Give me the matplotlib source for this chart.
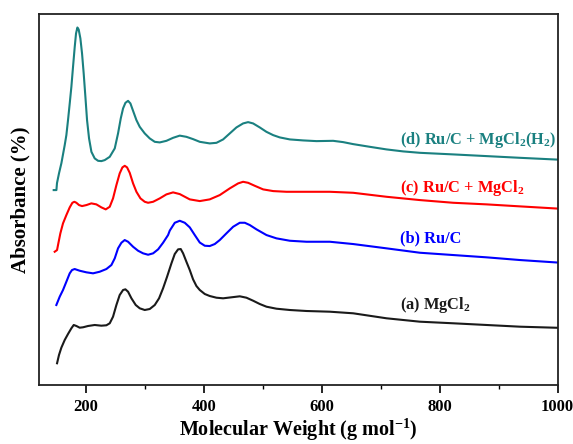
import matplotlib
matplotlib.use("Agg")
import matplotlib.pyplot as plt
from matplotlib.ticker import MultipleLocator

# ------------------------------------------------------------
# Data (x in g/mol, absorbance in arbitrary units)
# ------------------------------------------------------------
x_a = [150.7, 154.0, 158.0, 163.7, 169.3, 175.0, 179.0, 183.5, 189.1, 194.8,
       203.3, 214.6, 225.9, 234.4, 240.1, 245.7, 251.4, 257.0, 262.7, 266.7,
       271.2, 276.9, 284.2, 291.0, 299.5, 308.0, 316.5, 323.8, 330.6, 337.4,
       344.8, 350.4, 356.1, 360.6, 364.6, 370.2, 375.9, 381.5, 387.2, 392.9,
       401.4, 409.8, 421.2, 432.5, 446.6, 460.8, 472.1, 483.4, 494.7, 506.1,
       523.0, 545.7, 574.0, 613.6, 653.2, 709.8, 766.4, 823.0, 879.6, 936.2,
       1000.0]
y_a = [21.7, 30.0, 37.3, 45.0, 51.0, 56.7, 60.0, 59.0, 57.3, 57.7,
       59.0, 60.0, 59.3, 59.7, 61.7, 68.3, 80.0, 90.0, 95.0, 95.7,
       93.3, 86.7, 80.0, 76.7, 75.0, 76.0, 80.0, 86.7, 96.7, 108.3,
       121.7, 131.0, 135.7, 136.0, 131.7, 123.3, 115.0, 105.7, 99.0, 95.0,
       91.0, 89.0, 87.3, 86.7, 87.7, 88.7, 87.3, 84.3, 81.0, 78.3,
       76.3, 75.0, 74.0, 73.3, 71.7, 66.7, 63.3, 61.7, 60.0, 58.3,
       57.2]

x_b = [149.5, 155.2, 160.8, 166.5, 172.2, 176.1, 180.6, 189.1, 200.5, 211.8,
       223.1, 234.4, 242.9, 248.6, 254.2, 259.9, 265.5, 271.2, 279.7, 288.2,
       296.7, 305.2, 313.7, 322.2, 330.6, 339.1, 342.0, 350.5, 358.9, 367.4,
       375.9, 384.4, 392.9, 401.4, 409.8, 418.3, 426.8, 438.1, 449.5, 460.8,
       469.3, 477.8, 489.1, 506.1, 523.0, 545.7, 574.0, 613.6, 653.2, 709.8,
       766.4, 823.0, 879.6, 936.2, 1000.0]
y_b = [80.0, 88.3, 95.0, 103.3, 111.7, 115.0, 116.0, 114.3, 112.7, 111.7,
       113.3, 116.0, 120.0, 126.7, 136.7, 142.3, 145.0, 143.3, 138.3, 134.3,
       131.7, 130.3, 131.7, 135.7, 142.3, 150.0, 154.5, 162.3, 164.3, 162.3,
       157.7, 150.0, 142.5, 139.3, 139.0, 141.0, 145.0, 151.7, 158.3, 162.3,
       162.3, 160.0, 155.7, 150.0, 146.7, 144.3, 143.3, 143.3, 141.0, 136.7,
       132.3, 130.0, 127.7, 125.0, 122.5]

x_c = [146.7, 150.7, 152.9, 156.3, 160.8, 166.5, 172.2, 176.7, 180.1, 183.5,
       188.0, 193.1, 200.5, 208.9, 217.4, 225.9, 233.3, 240.1, 245.7, 251.4,
       257.0, 261.6, 265.6, 269.5, 274.0, 279.7, 285.4, 292.2, 299.5, 305.2,
       313.7, 325.0, 336.3, 347.6, 358.9, 375.9, 392.9, 409.8, 426.8, 443.8,
       458.0, 466.4, 474.9, 486.2, 500.4, 517.4, 540.0, 585.3, 613.6, 653.2,
       709.8, 766.4, 823.0, 879.6, 936.2, 1000.0]
y_c = [133.3, 135.0, 141.7, 151.7, 161.7, 170.0, 177.7, 182.3, 183.3, 182.3,
       180.0, 179.0, 180.0, 181.7, 180.7, 177.7, 175.7, 178.3, 186.7, 200.0,
       211.7, 217.7, 219.3, 217.7, 212.3, 201.7, 193.3, 186.7, 183.3, 182.3,
       183.3, 186.7, 190.7, 192.7, 191.0, 185.7, 184.0, 185.7, 190.0, 196.7,
       201.7, 203.3, 202.3, 199.3, 195.7, 194.0, 193.3, 193.3, 193.3, 192.3,
       188.3, 185.0, 182.3, 180.7, 178.7, 176.5]

x_d = [145.0, 149.6, 150.6, 154.1, 158.1, 163.7, 166.5, 169.3, 172.2, 175.0,
       177.8, 180.7, 182.9, 185.2, 187.4, 190.3, 193.1, 195.9, 198.8, 201.6,
       205.0, 209.0, 214.6, 220.3, 225.9, 231.6, 240.1, 248.6, 254.2, 258.8,
       262.7, 266.7, 271.2, 275.2, 279.7, 285.4, 291.0, 299.5, 308.0, 316.5,
       325.0, 336.3, 347.6, 358.9, 370.2, 381.5, 392.9, 409.8, 421.2, 432.5,
       443.8, 455.1, 466.4, 474.9, 483.4, 494.7, 506.0, 517.4, 528.7, 545.7,
       568.3, 591.0, 619.2, 636.2, 653.2, 681.5, 709.8, 738.1, 766.4, 823.0,
       879.6, 936.2, 1000.0]
y_d = [195.0, 195.0, 202.0, 212.0, 222.0, 240.0, 250.0, 265.0, 281.7, 298.3,
       318.3, 338.3, 351.7, 357.7, 355.7, 346.7, 331.7, 311.7, 288.3, 265.0,
       246.7, 233.3, 226.7, 224.3, 224.0, 225.0, 228.3, 236.7, 251.7, 266.7,
       276.7, 282.3, 284.3, 281.7, 274.3, 265.0, 258.3, 251.7, 246.7, 243.3,
       242.7, 244.3, 247.3, 249.5, 248.3, 246.0, 243.3, 241.7, 242.3, 245.7,
       251.7, 257.7, 261.7, 263.0, 261.7, 257.7, 253.3, 250.0, 247.7, 245.7,
       244.7, 244.0, 244.3, 243.0, 241.0, 238.3, 235.7, 233.7, 232.3, 230.7,
       229.0, 227.3, 225.5]

labels = [r"(a) MgCl$_\mathbf{2}$",
          r"(b) Ru/C",
          r"(c) Ru/C + MgCl$_\mathbf{2}$",
          r"(d) Ru/C + MgCl$_\mathbf{2}$(H$_\mathbf{2}$)"]
label_y = [80, 147, 197, 245]
colors = ["#1a1a1a", "#0000ff", "#ff0000", "#1a8080"]

# ------------------------------------------------------------
# Style
# ------------------------------------------------------------
plt.rcParams["font.family"] = ["Liberation Serif", "DejaVu Serif"]
plt.rcParams["font.weight"] = "bold"
plt.rcParams["mathtext.fontset"] = "custom"
plt.rcParams["mathtext.rm"] = "Liberation Serif:bold"
plt.rcParams["mathtext.bf"] = "Liberation Serif:bold"

fig = plt.figure(figsize=(5.73, 4.44), dpi=100)
ax = fig.add_axes([0.068, 0.133, 0.905, 0.835])

series = [(x_a, y_a), (x_b, y_b), (x_c, y_c), (x_d, y_d)]
for (xs, ys), c in zip(series, colors):
    ax.plot(xs, ys, color=c, lw=1.5, solid_joinstyle="round")

for lab, ly, c in zip(labels, label_y, colors):
    ax.text(732, ly, lab, color=c, fontsize=11.8, fontweight="bold",
            ha="left", va="center")

ax.set_xlim(120, 1000)
ax.set_ylim(0, 371)
ax.xaxis.set_minor_locator(MultipleLocator(100))
ax.set_xticks([200, 400, 600, 800, 1000])
ax.tick_params(axis="x", which="major", direction="out", length=6, width=1.2,
               labelsize=12, pad=4)
ax.tick_params(axis="x", which="minor", direction="out", length=3, width=1.0)
ax.set_yticks([])
for s in ax.spines.values():
    s.set_linewidth(1.3)
    s.set_color("#222222")

ax.set_xlabel(r"Molecular Weight (g mol$^\mathbf{-1}$)", fontsize=14.5,
              fontweight="bold", labelpad=1)
ax.set_ylabel("Absorbance (%)", fontsize=15, fontweight="bold", labelpad=6)

fig.savefig("out.png", dpi=100)
